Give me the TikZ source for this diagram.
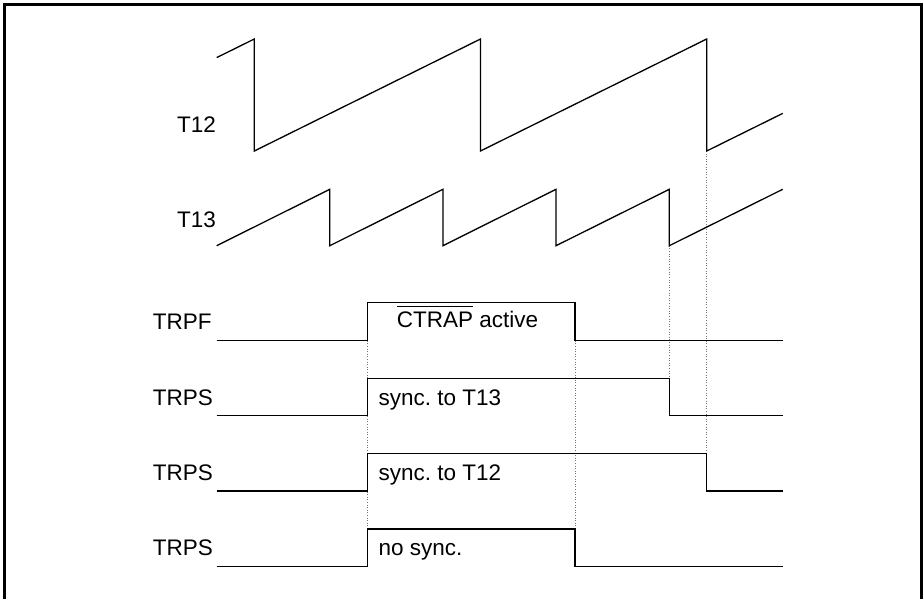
\documentclass[tikz,border=0pt]{standalone}
\usepackage{fontspec}
\setmainfont{Liberation Sans}
\begin{document}
\frenchspacing
\begin{tikzpicture}[x=1pt,y=-1pt,
  wave/.style={line width=1.3pt, line join=miter},
  guide/.style={dotted, line width=0.6pt, black!55},
  lbl/.style={anchor=base west, inner sep=0pt, font=\fontsize{22.5}{27}\selectfont\frenchspacing}]
\useasboundingbox (0,0) rectangle (923,599);
% frame
\draw[line width=2.6pt, line join=miter] (4.7,599) -- (4.7,4.3) -- (921.5,4.3) -- (921.5,599);
% guide lines
\draw[guide] (367.7,340.7) -- (367.7,529);
\draw[guide] (575,340.7) -- (575,529);
\draw[guide] (669.3,245.7) -- (669.3,378.3);
\draw[guide] (706.7,151) -- (706.7,453.3);
% T12
\node[lbl] (t12) at (177,132.3) {T12};
\draw[wave] (216.7,57.6) -- (254.3,39) -- (254.3,151) -- (480.5,39) -- (480.5,151)
  -- (706.7,39) -- (706.7,151) -- (782.7,113.4);
% T13
\node[lbl] (t13) at (177,227.3) {T13};
\draw[wave] (216.7,245.7) -- (329.8,189.3) -- (329.8,245.7) -- (442.9,189.3) -- (442.9,245.7)
  -- (556,189.3) -- (556,245.7) -- (669.3,189.3) -- (669.3,245.7) -- (782.7,189.3);
% TRPF
\node[lbl] (trpf) at (152.7,329) {TRPF};
\draw[wave] (216.7,340.7) -- (367.7,340.7) -- (367.7,302.7) -- (575,302.7) -- (575,340.7) -- (782.7,340.7);
\node[lbl] (ctrap) at (396.7,327.7) {\vbox{\hrule height 1.2pt\kern5pt\hbox{CTRAP}}\ active};
% TRPS sync T13
\node[lbl] (trps1) at (152.7,405) {TRPS};
\draw[wave] (216.7,415.7) -- (367.7,415.7) -- (367.7,378.3) -- (669.3,378.3) -- (669.3,415.7) -- (782.7,415.7);
\node[lbl] (s13) at (378.3,405) {sync. to T13};
% TRPS sync T12
\node[lbl] (trps2) at (152.7,480) {TRPS};
\draw[wave] (216.7,491) -- (367.7,491) -- (367.7,453.3) -- (706.7,453.3) -- (706.7,491) -- (782.7,491);
\node[lbl] (s12) at (378.3,480) {sync. to T12};
% TRPS no sync
\node[lbl] (trps3) at (152.7,555) {TRPS};
\draw[wave] (216.7,566.7) -- (367.7,566.7) -- (367.7,529) -- (575,529) -- (575,566.7) -- (782.7,566.7);
\node[lbl] (ns) at (378.3,555) {no sync.};
\end{tikzpicture}
\end{document}
